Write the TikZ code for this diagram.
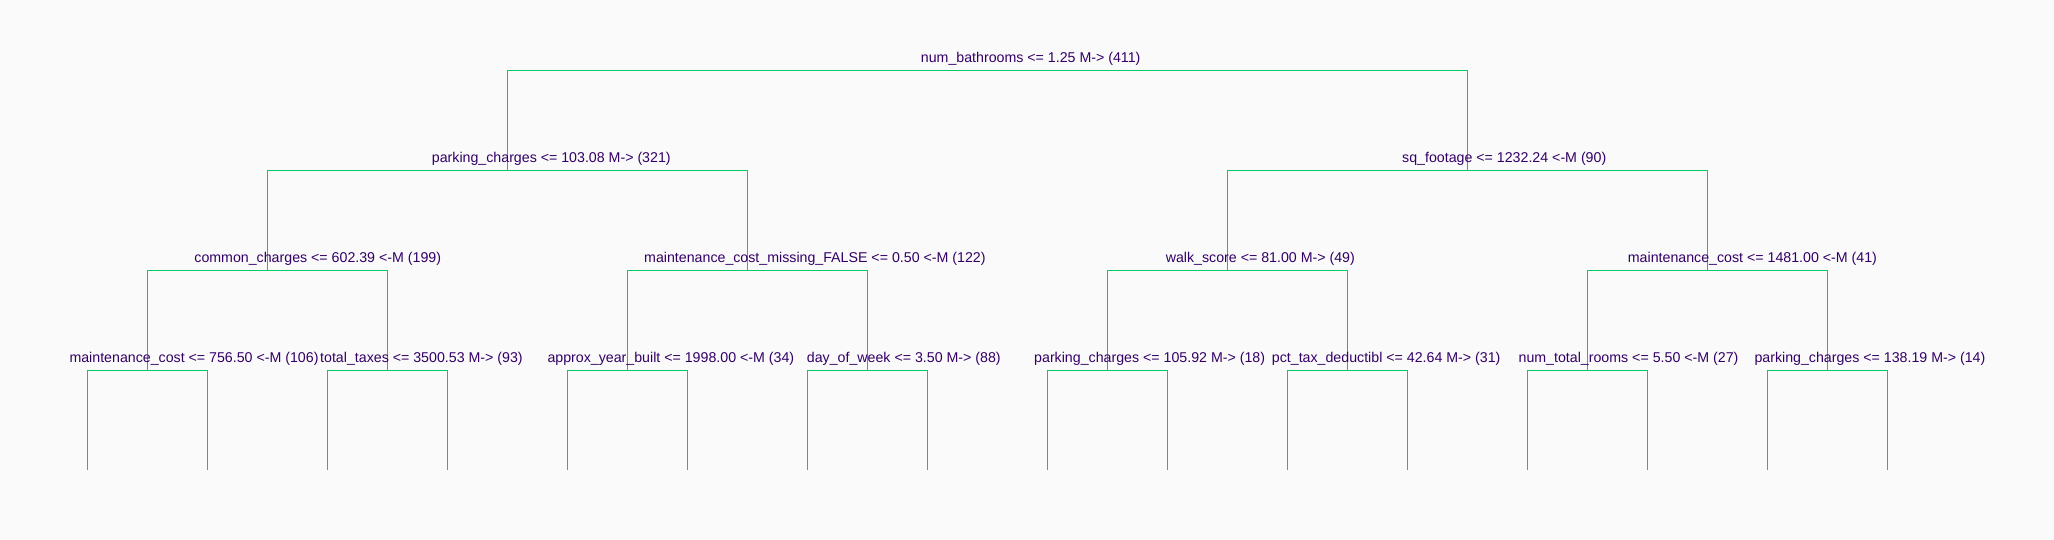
\documentclass[tikz,border=0pt]{standalone}
\usepackage{fontspec}
\setmainfont{Liberation Sans}
\definecolor{bgc}{RGB}{250,250,250}
\definecolor{edgec}{RGB}{0,204,102}
\definecolor{txtc}{RGB}{51,0,102}
\begin{document}
\begin{tikzpicture}[x=1pt,y=-1pt,
  edge/.style={draw=edgec,line width=1.1pt},
  lbl/.style={anchor=base west,inner sep=0pt,text=txtc,font=\fontsize{14.2}{17}\selectfont}]
\fill[bgc] (0,0) rectangle (2054,540);
\useasboundingbox (0,0) rectangle (2054,540);
% tree junctions
\coordinate (n0) at (987.5,70.5);
\coordinate (n1) at (507.5,170.5);
\coordinate (n2) at (1467.5,170.5);
\coordinate (n3) at (267.5,270.5);
\coordinate (n4) at (747.5,270.5);
\coordinate (n5) at (1227.5,270.5);
\coordinate (n6) at (1707.5,270.5);
\coordinate (n7) at (147.5,370.5);
\coordinate (n8) at (387.5,370.5);
\coordinate (n9) at (627.5,370.5);
\coordinate (n10) at (867.5,370.5);
\coordinate (n11) at (1107.5,370.5);
\coordinate (n12) at (1347.5,370.5);
\coordinate (n13) at (1587.5,370.5);
\coordinate (n14) at (1827.5,370.5);
\foreach \i in {0,...,15}{\coordinate (f\i) at ({87.5+120*\i},470);}
% connectors
\draw[edge] (n1) |- (n0) -| (n2);
\draw[edge] (n3) |- (n1) -| (n4);
\draw[edge] (n5) |- (n2) -| (n6);
\draw[edge] (n7) |- (n3) -| (n8);
\draw[edge] (n9) |- (n4) -| (n10);
\draw[edge] (n11) |- (n5) -| (n12);
\draw[edge] (n13) |- (n6) -| (n14);
\draw[edge] (f0) |- (n7) -| (f1);
\draw[edge] (f2) |- (n8) -| (f3);
\draw[edge] (f4) |- (n9) -| (f5);
\draw[edge] (f6) |- (n10) -| (f7);
\draw[edge] (f8) |- (n11) -| (f9);
\draw[edge] (f10) |- (n12) -| (f11);
\draw[edge] (f12) |- (n13) -| (f13);
\draw[edge] (f14) |- (n14) -| (f15);
% labels
\node[lbl] (t0) at (920.7,62.7) {num\_bathrooms <= 1.25 M-> (411)};
\node[lbl] (t1) at (431.7,162.7) {parking\_charges <= 103.08 M-> (321)};
\node[lbl] (t2) at (1402,162.7) {sq\_footage <= 1232.24 <-M (90)};
\node[lbl] (t3) at (194.2,262.7) {common\_charges <= 602.39 <-M (199)};
\node[lbl] (t4) at (644,262.7) {maintenance\_cost\_missing\_FALSE <= 0.50 <-M (122)};
\node[lbl] (t5) at (1165.6,262.7) {walk\_score <= 81.00 M-> (49)};
\node[lbl] (t6) at (1627.7,262.7) {maintenance\_cost <= 1481.00 <-M (41)};
\node[lbl] (t7) at (69.3,362.7) {maintenance\_cost <= 756.50 <-M (106)};
\node[lbl] (t8) at (320,362.7) {total\_taxes <= 3500.53 M-> (93)};
\node[lbl] (t9) at (547.3,362.7) {approx\_year\_built <= 1998.00 <-M (34)};
\node[lbl] (t10) at (806.7,362.7) {day\_of\_week <= 3.50 M-> (88)};
\node[lbl] (t11) at (1034,362.7) {parking\_charges <= 105.92 M-> (18)};
\node[lbl] (t12) at (1271.7,362.7) {pct\_tax\_deductibl <= 42.64 M-> (31)};
\node[lbl] (t13) at (1518.4,362.7) {num\_total\_rooms <= 5.50 <-M (27)};
\node[lbl] (t14) at (1754.3,362.7) {parking\_charges <= 138.19 M-> (14)};
\end{tikzpicture}
\end{document}
